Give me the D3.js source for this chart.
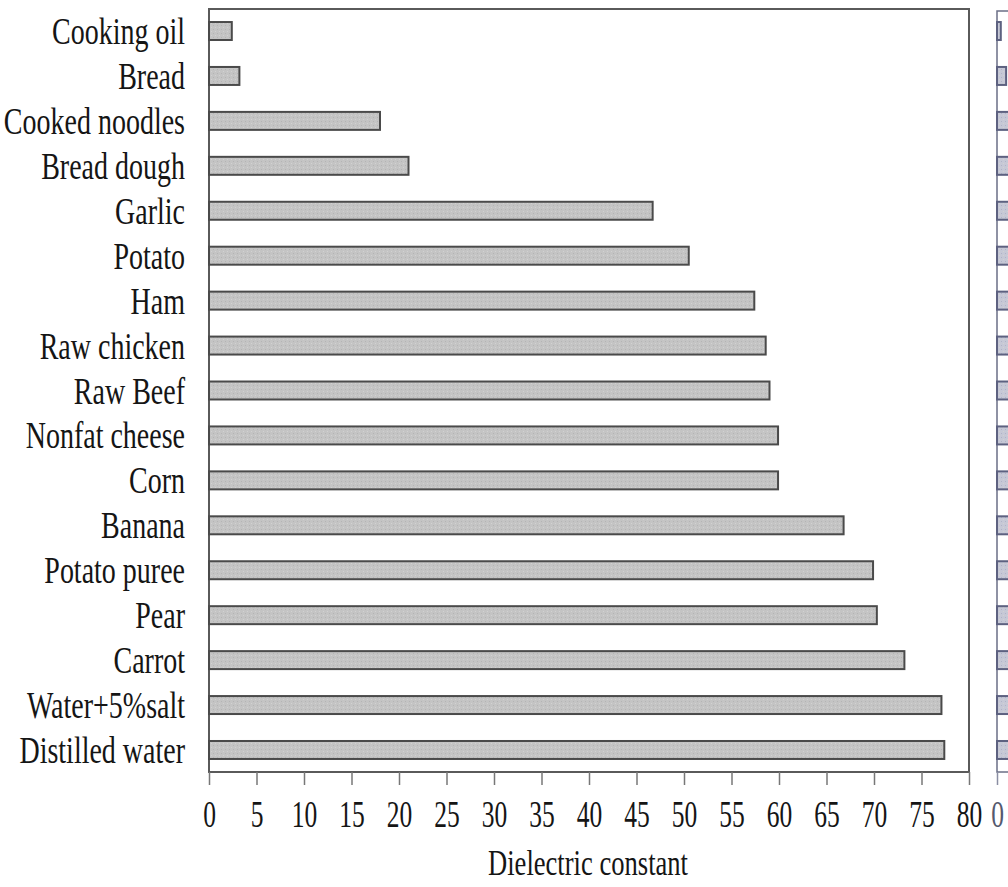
<!DOCTYPE html>
<html>
<head>
<meta charset="utf-8">
<script src="https://cdn.jsdelivr.net/npm/d3@7"></script>
<style>
  html, body { margin: 0; padding: 0; background: #fff; overflow: hidden; }
  svg { display: block; }
  text { font-family: "Liberation Serif", "Times New Roman", serif; fill: #151515; }
</style>
</head>
<body>
<svg id="chart" width="1008" height="887"></svg>
<script>
// Foods, top to bottom
const foods = [
  "Cooking oil", "Bread", "Cooked noodles", "Bread dough", "Garlic", "Potato",
  "Ham", "Raw chicken", "Raw Beef", "Nonfat cheese", "Corn", "Banana",
  "Potato puree", "Pear", "Carrot", "Water+5%salt", "Distilled water"
];
// Dielectric constant of each food
const dielectricConstant = [
  2.4, 3.2, 18.0, 21.0, 46.7, 50.5,
  57.4, 58.6, 59.0, 59.9, 59.9, 66.8,
  69.9, 70.3, 73.2, 77.1, 77.4
];
// Loss factor of each food (neighbouring panel, mostly beyond the page edge)
const lossFactor = [
  0.15, 0.36, 6.5, 7.5, 15.0, 16.0,
  21.0, 18.0, 17.0, 25.0, 18.0, 18.0,
  20.0, 12.0, 15.0, 28.0, 10.0
];
const xTicks = [0, 5, 10, 15, 20, 25, 30, 35, 40, 45, 50, 55, 60, 65, 70, 75, 80];
const xTitle = "Dielectric constant";

const svg = d3.select("#chart");

// bar texture: light grey with a fine speckle
const defs = svg.append("defs");
function speckle(id, base, dot) {
  const p = defs.append("pattern").attr("id", id)
    .attr("patternUnits", "userSpaceOnUse").attr("width", 4).attr("height", 4);
  p.append("rect").attr("width", 4).attr("height", 4).attr("fill", base);
  p.append("rect").attr("x", 1).attr("y", 1).attr("width", 1).attr("height", 1).attr("fill", dot);
  p.append("rect").attr("x", 3).attr("y", 3).attr("width", 1).attr("height", 1).attr("fill", "#d2d2d2");
}
speckle("greyDots", "#c4c4c4", "#b4b4b4");
speckle("blueDots", "#c6c8d6", "#b0b3c6");

const plot = { left: 209, right: 969, top: 9, bottom: 772 };

const y = d3.scaleBand()
  .domain(foods)
  .range([plot.top, plot.bottom])
  .paddingInner(0.6)
  .paddingOuter(0.29);

const x = d3.scaleLinear().domain([0, 80]).range([plot.left, plot.right]);

// frame
svg.append("rect")
  .attr("x", plot.left).attr("y", plot.top)
  .attr("width", plot.right - plot.left).attr("height", plot.bottom - plot.top)
  .attr("fill", "none").attr("stroke", "#5a5a5a").attr("stroke-width", 2);

// bars
svg.append("g").selectAll("rect")
  .data(foods)
  .join("rect")
  .attr("x", x(0))
  .attr("y", d => y(d))
  .attr("width", (d, i) => x(dielectricConstant[i]) - x(0))
  .attr("height", y.bandwidth())
  .attr("fill", "url(#greyDots)")
  .attr("stroke", "#4a4a4a")
  .attr("stroke-width", 2);

// category labels (tall, narrow serif)
const kY = 1.35;
const yAxis = svg.append("g")
  .attr("transform", `translate(${plot.left},0)`)
  .call(d3.axisLeft(y).tickSize(0).tickPadding(0));
yAxis.select(".domain").remove();
yAxis.selectAll("text")
  .attr("x", -24)
  .attr("y", 13 / kY)
  .attr("dy", null)
  .attr("transform", `scale(1,${kY})`)
  .attr("text-anchor", "end")
  .style("font-family", "'Liberation Serif', serif")
  .style("font-size", "28px")
  .style("fill", "#151515");

// value axis
const kX = 1.45;
const xAxis = svg.append("g")
  .attr("transform", `translate(0,${plot.bottom})`)
  .call(d3.axisBottom(x).tickValues(xTicks).tickSize(13).tickSizeOuter(0).tickFormat(d3.format("d")));
xAxis.select(".domain").remove();
xAxis.selectAll(".tick line").attr("stroke", "#777").attr("stroke-width", 1.5);
xAxis.selectAll("text")
  .attr("y", 55 / kX)
  .attr("dy", null)
  .attr("transform", `scale(1,${kX})`)
  .style("font-family", "'Liberation Serif', serif")
  .style("font-size", "25.5px")
  .style("fill", "#151515");

// axis title
const kT = 1.32;
svg.append("text")
  .attr("transform", `translate(${(plot.left + plot.right) / 2 - 1},875) scale(1,${kT})`)
  .attr("text-anchor", "middle")
  .style("font-size", "26.6px")
  .text(xTitle);

// neighbouring panel: loss factor, same foods
const x2 = d3.scaleLinear().domain([0, 30]).range([997, 997 + 760]);
svg.append("rect")
  .attr("x", x2(0)).attr("y", plot.top + 2)
  .attr("width", 760).attr("height", plot.bottom - plot.top - 2)
  .attr("fill", "none").attr("stroke", "#6b6f86").attr("stroke-width", 1.5);
svg.append("g").selectAll("rect")
  .data(foods)
  .join("rect")
  .attr("x", x2(0))
  .attr("y", d => y(d))
  .attr("width", (d, i) => x2(lossFactor[i]) - x2(0))
  .attr("height", y.bandwidth())
  .attr("fill", "url(#blueDots)")
  .attr("stroke", "#5d6180")
  .attr("stroke-width", 2);
const x2Axis = svg.append("g")
  .attr("transform", `translate(0,${plot.bottom})`)
  .call(d3.axisBottom(x2).tickValues([0]).tickSize(13).tickSizeOuter(0));
x2Axis.select(".domain").remove();
x2Axis.selectAll(".tick line").attr("stroke", "#8a8ea3").attr("stroke-width", 1.5);
x2Axis.selectAll("text")
  .attr("y", 55 / kX)
  .attr("dy", null)
  .attr("transform", `scale(1,${kX})`)
  .style("font-family", "'Liberation Serif', serif")
  .style("font-size", "25.5px")
  .style("fill", "#55596e");
</script>
</body>
</html>
